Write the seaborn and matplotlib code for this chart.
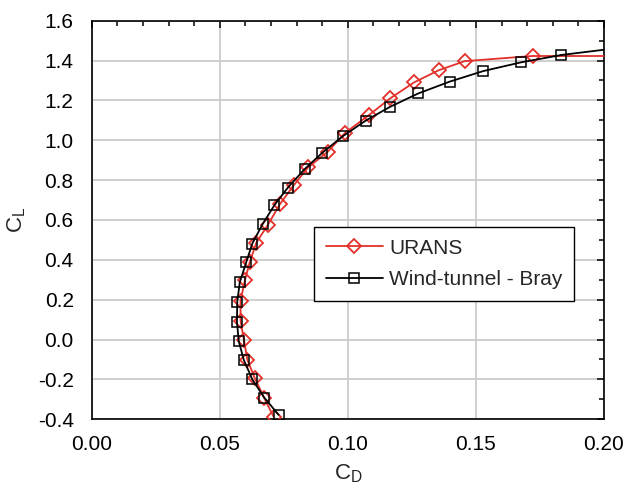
import pandas as pd
import matplotlib
matplotlib.use("Agg")
import matplotlib.pyplot as plt
from matplotlib.ticker import MultipleLocator, FormatStrFormatter
import seaborn as sns

# Dados
urans_cd = [0.0710, 0.0674, 0.0637, 0.0608, 0.0594, 0.0581, 0.0581, 0.0598, 0.0617, 0.0643,
            0.0687, 0.0735, 0.0789, 0.0845, 0.0921, 0.0990, 0.1082, 0.1165, 0.1258, 0.1354,
            0.1456, 0.1722]
urans_cl = [-0.387, -0.295, -0.195, -0.103, 0.000, 0.095, 0.195, 0.297, 0.388, 0.487,
            0.574, 0.680, 0.775, 0.864, 0.942, 1.038, 1.126, 1.210, 1.290, 1.351,
            1.397, 1.423]
# continuação da linha além do eixo
urans_ext_cd = [0.1722, 0.2300]
urans_ext_cl = [1.423, 1.423]

bray_cd = [0.0730, 0.0674, 0.0627, 0.0594, 0.0574, 0.0567, 0.0568, 0.0578, 0.0603, 0.0627,
           0.0667, 0.0713, 0.0766, 0.0831, 0.0900, 0.0981, 0.1069, 0.1165, 0.1275, 0.1397,
           0.1528, 0.1676, 0.1834]
bray_cl = [-0.378, -0.292, -0.200, -0.103, -0.008, 0.088, 0.188, 0.287, 0.387, 0.482,
           0.579, 0.674, 0.763, 0.855, 0.937, 1.021, 1.098, 1.168, 1.235, 1.294,
           1.347, 1.391, 1.428]
bray_ext_cd = [0.1834, 0.2011, 0.2100]
bray_ext_cl = [1.428, 1.456, 1.468]

sns.set_style("white")
plt.rcParams["font.family"] = ["Liberation Sans", "DejaVu Sans"]
plt.rcParams["mathtext.fontset"] = "custom"
plt.rcParams["mathtext.rm"] = "Liberation Sans"
plt.rcParams["mathtext.it"] = "Liberation Sans"

red = "#e3302a"

fig = plt.figure(figsize=(6.27, 4.88), dpi=100)
ax = fig.add_axes([0.1463, 0.1408, 0.817, 0.8168])

df_u = pd.DataFrame({"CD": urans_cd, "CL": urans_cl})
df_b = pd.DataFrame({"CD": bray_cd, "CL": bray_cl})

sns.lineplot(data=pd.DataFrame({"CD": urans_ext_cd, "CL": urans_ext_cl}), x="CD", y="CL",
             sort=False, estimator=None, color=red, lw=1.3, ax=ax, zorder=3)
sns.lineplot(data=df_u, x="CD", y="CL", sort=False, estimator=None, color=red, lw=1.3,
             marker="D", markersize=7, markerfacecolor="none", markeredgecolor=red,
             markeredgewidth=1.3, label="URANS", ax=ax, zorder=3)
sns.lineplot(data=pd.DataFrame({"CD": bray_ext_cd, "CL": bray_ext_cl}), x="CD", y="CL",
             sort=False, estimator=None, color="black", lw=1.3, ax=ax, zorder=4)
sns.lineplot(data=df_b, x="CD", y="CL", sort=False, estimator=None, color="black", lw=1.3,
             marker="s", markersize=6.5, markerfacecolor="none", markeredgecolor="black",
             markeredgewidth=1.1, label="Wind-tunnel - Bray", ax=ax, zorder=4)

ax.set_xlim(0, 0.20)
ax.set_ylim(-0.4, 1.6)
ax.xaxis.set_major_locator(MultipleLocator(0.05))
ax.xaxis.set_minor_locator(MultipleLocator(0.01))
ax.yaxis.set_major_locator(MultipleLocator(0.2))
ax.yaxis.set_minor_locator(MultipleLocator(0.1))
ax.xaxis.set_major_formatter(FormatStrFormatter("%.2f"))
ax.yaxis.set_major_formatter(FormatStrFormatter("%.1f"))

ax.grid(True, which="major", color="#cccccc", lw=1.3, zorder=0)
ax.set_axisbelow(True)
ax.tick_params(which="both", direction="in", top=True, right=True, colors="black",
               labelsize=15, width=1.1)
ax.tick_params(which="major", length=5)
ax.tick_params(which="minor", length=3.5)
ax.tick_params(axis="x", which="major", pad=11)
ax.tick_params(axis="y", which="major", pad=13)
for s in ax.spines.values():
    s.set_color("black")
    s.set_linewidth(1.2)

ax.set_xlabel(r"C$_\mathrm{D}$", fontsize=16, labelpad=6)
ax.set_ylabel(r"C$_\mathrm{L}$", fontsize=16, labelpad=7)

leg = ax.legend(loc="upper left", bbox_to_anchor=(0.434, 0.482), fontsize=15,
                frameon=True, fancybox=False, edgecolor="black", framealpha=1,
                borderaxespad=0, handlelength=2.75, handletextpad=0.3,
                borderpad=0.55, labelspacing=0.6)
leg.get_frame().set_linewidth(1.0)

plt.savefig("out.png", dpi=100)
